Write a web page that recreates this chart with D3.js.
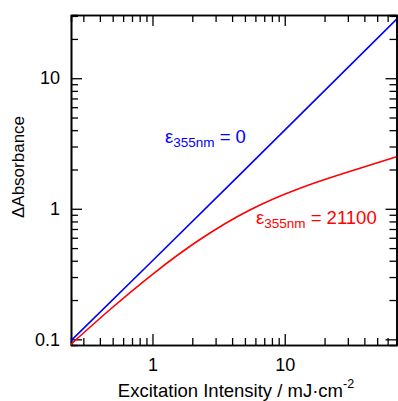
<!DOCTYPE html>
<html lang="en">
<head>
    <meta charset="UTF-8">
    <script src="https://cdn.jsdelivr.net/npm/d3@7"></script>
    <title>Delta Absorbance vs Excitation Intensity</title>
    <style>
        body { margin: 0; background: white; }
        svg text { font-family: "Liberation Sans", Arial, sans-serif; }
    </style>
</head>
<body>
<div id="chart"></div>
<script>
    // values
    const blueIntensity = [0.24, 1, 10, 70];
    const blueAbsorbance = [0.097, 0.40, 4.0, 28.3];

    const redIntensity = [0.24, 0.48, 1.04, 2.27, 5.4, 12.9, 27.7, 70];
    const redAbsorbance = [0.091, 0.170, 0.325, 0.579, 0.975, 1.43, 1.86, 2.50];

    const xTickLabels = [1, 10];
    const yTickLabels = [0.1, 1, 10];

    const W = 398, H = 401;
    const margin = { top: 15, right: 1.5, bottom: 56, left: 71 };
    const width = W - margin.left - margin.right;
    const height = H - margin.top - margin.bottom;

    const svg = d3.select("#chart").append("svg")
        .attr("width", W)
        .attr("height", H);

    const x = d3.scaleLog().domain([0.242, 70]).range([0, width]);
    const y = d3.scaleLog().domain([0.0905, 30.5]).range([height, 0]);

    const g = svg.append("g")
        .attr("transform", "translate(" + margin.left + "," + margin.top + ")");

    svg.append("defs").append("clipPath").attr("id", "clip")
        .append("rect").attr("width", width).attr("height", height);

    // minor / major ticks on all four sides, pointing inward
    const xMinor = x.ticks().filter(v => !xTickLabels.includes(v));
    const yMinor = y.ticks().filter(v => !yTickLabels.includes(v));
    const major = 11, minor = 7;

    function styleAxis(sel) {
        sel.selectAll("path").attr("stroke", "#000").attr("stroke-width", 1.6);
        sel.selectAll("line").attr("stroke", "#000").attr("stroke-width", 1.3);
        sel.selectAll("text").attr("fill", "#000").style("font-size", "18px")
            .style("font-family", "'Liberation Sans', Arial, sans-serif");
    }

    // bottom
    g.append("g").attr("transform", "translate(0," + height + ")")
        .call(d3.axisBottom(x).tickValues(xMinor).tickSize(-minor).tickFormat(""))
        .call(styleAxis);
    g.append("g").attr("transform", "translate(0," + height + ")")
        .call(d3.axisBottom(x).tickValues(xTickLabels).tickSize(-major).tickPadding(13)
            .tickFormat(d3.format("")).tickSizeOuter(0))
        .call(styleAxis);
    // top
    g.append("g")
        .call(d3.axisTop(x).tickValues(xMinor).tickSize(-minor).tickFormat(""))
        .call(styleAxis);
    g.append("g")
        .call(d3.axisTop(x).tickValues(xTickLabels).tickSize(-major).tickFormat("").tickSizeOuter(0))
        .call(styleAxis);
    // left
    g.append("g")
        .call(d3.axisLeft(y).tickValues(yMinor).tickSize(-minor).tickFormat(""))
        .call(styleAxis);
    g.append("g")
        .call(d3.axisLeft(y).tickValues(yTickLabels).tickSize(-major).tickPadding(11)
            .tickFormat(d3.format("")).tickSizeOuter(0))
        .call(styleAxis);
    // right
    g.append("g").attr("transform", "translate(" + width + ",0)")
        .call(d3.axisRight(y).tickValues(yMinor).tickSize(-minor).tickFormat(""))
        .call(styleAxis);
    g.append("g").attr("transform", "translate(" + width + ",0)")
        .call(d3.axisRight(y).tickValues(yTickLabels).tickSize(-major).tickFormat("").tickSizeOuter(0))
        .call(styleAxis);

    // lines
    const line = d3.line()
        .x(d => x(d[0]))
        .y(d => y(d[1]))
        .curve(d3.curveNatural);

    const lines = g.append("g").attr("clip-path", "url(#clip)");
    lines.append("path")
        .datum(d3.zip(blueIntensity, blueAbsorbance))
        .attr("fill", "none")
        .attr("stroke", "#0000ff")
        .attr("stroke-width", 1.6)
        .attr("d", line);
    lines.append("path")
        .datum(d3.zip(redIntensity, redAbsorbance))
        .attr("fill", "none")
        .attr("stroke", "#ff0000")
        .attr("stroke-width", 1.6)
        .attr("d", line);

    // annotations
    function label(px, py, value, color) {
        const t = svg.append("text")
            .attr("x", px).attr("y", py)
            .attr("fill", color)
            .style("font-size", "18.5px");
        t.append("tspan").text("ε");
        t.append("tspan").attr("dy", 4).style("font-size", "13.5px").text("355nm");
        t.append("tspan").attr("dy", -4).text(" = " + value);
    }
    label(165, 143, "0", "#0000ff");
    label(256, 224, "21100", "#ff0000");

    // axis titles
    const xt = svg.append("text")
        .attr("x", 236)
        .attr("y", 397)
        .attr("text-anchor", "middle")
        .attr("fill", "#000")
        .style("font-size", "18.5px");
    xt.append("tspan").text("Excitation Intensity / mJ·cm");
    xt.append("tspan").attr("dy", -9).style("font-size", "12.5px").text("-2");

    svg.append("text")
        .attr("transform", "translate(24,167) rotate(-90)")
        .attr("text-anchor", "middle")
        .attr("fill", "#000")
        .style("font-size", "17px")
        .text("ΔAbsorbance");
</script>
</body>
</html>
